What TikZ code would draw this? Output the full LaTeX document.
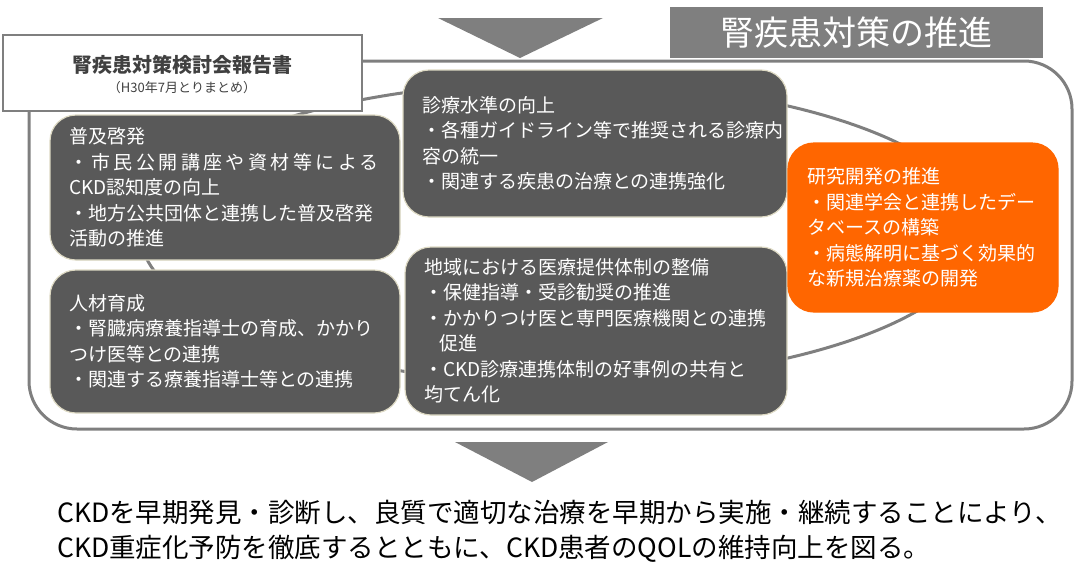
\documentclass[tikz,border=0pt]{standalone}
\usepackage{fontspec}
\setmainfont{Noto Sans CJK JP}
\usetikzlibrary{positioning}
\definecolor{ringgray}{HTML}{7F7F7F}
\definecolor{panelgray}{HTML}{595959}
\definecolor{paneledge}{HTML}{DDD9C3}
\definecolor{resorange}{HTML}{FF6600}
\definecolor{titlegray}{HTML}{404040}
\begin{document}
\begin{tikzpicture}[x=1pt, y=-1pt,
  panel/.style={rounded corners=26pt, fill=panelgray, draw=paneledge, line width=1.2pt, text=white, align=left, inner xsep=19pt, inner ysep=0pt, font=\fontsize{19}{25.5}\selectfont},
  ringline/.style={draw=ringgray, line width=3pt}]
\useasboundingbox (0,0) rectangle (1076,584);
\draw[ringline] (560,232) ellipse [x radius=420, y radius=150];
\draw[ringline, rounded corners=48pt] (29,61) rectangle (1072,429);
\fill[ringgray] (438,18) -- (603,18) -- (520,58) -- cycle;
\node[fill=ringgray, minimum width=373pt, minimum height=51pt, text=white, font=\fontsize{34}{40}\selectfont] (header) at (856.5,32.5) {腎疾患対策の推進};
\node[draw=ringgray, fill=white, line width=2pt, minimum width=359pt, minimum height=76pt] (report) at (182.5,73) {};
\node[text=titlegray, font=\fontsize{20}{24}\selectfont\bfseries] (reporttitle) at (182,65) {腎疾患対策検討会報告書};
\node[text=titlegray, font=\fontsize{13}{15}\selectfont] (reportdate) at (182,88) {（H30年7月とりまとめ）};
\node[panel, minimum width=350pt, minimum height=145pt, text width=312pt] (fukyu) at (225,187.5) {普及啓発\\{\addfontfeatures{LetterSpace=18}・市民公開講座や資材等による}\\CKD認知度の向上\\・地方公共団体と連携した普及啓発\\活動の推進};
\node[panel, minimum width=350pt, minimum height=143pt, text width=312pt] (jinzai) at (225,341.5) {人材育成\\・腎臓病療養指導士の育成、かかり\\つけ医等との連携\\・関連する療養指導士等との連携};
\node[panel, minimum width=384pt, minimum height=147pt, text width=346pt] (shinryo) at (595,143.5) {診療水準の向上\\・各種ガイドライン等で推奨される診療内\\容の統一\\・関連する疾患の治療との連携強化};
\node[panel, minimum width=382pt, minimum height=168pt, text width=344pt] (chiiki) at (596,331) {地域における医療提供体制の整備\\・保健指導・受診勧奨の推進\\・かかりつけ医と専門医療機関との連携\\\hspace*{0.8em}促進\\・CKD診療連携体制の好事例の共有と\\均てん化};
\node[panel, fill=resorange, draw=resorange, minimum width=270pt, minimum height=169pt, text width=232pt] (kenkyu) at (923,227.5) {研究開発の推進\\・関連学会と連携したデー\\タベースの構築\\・病態解明に基づく効果的\\な新規治療薬の開発};
\fill[ringgray] (455,442) -- (608,442) -- (532,482) -- cycle;
\node[anchor=base west, align=left, inner sep=0pt, font=\fontsize{26.5}{35}\selectfont] (goal) at (57,557) {CKDを早期発見・診断し、良質で適切な治療を早期から実施・継続することにより、\\CKD重症化予防を徹底するとともに、CKD患者のQOLの維持向上を図る。};
\end{tikzpicture}
\end{document}
